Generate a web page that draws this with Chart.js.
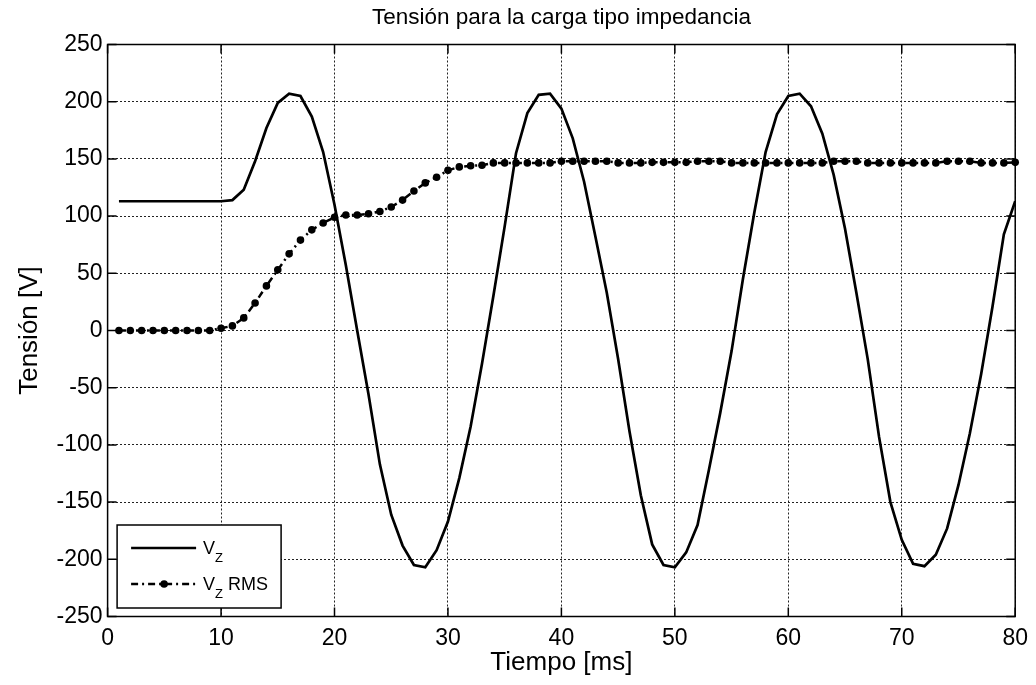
<!DOCTYPE html>
<html>
<head>
<meta charset="utf-8">
<script src="https://cdn.jsdelivr.net/npm/chart.js@4.4.0/dist/chart.umd.min.js"></script>
<style>
html, body { margin: 0; padding: 0; background: #fff; }
#wrap { width: 1036px; height: 685px; position: relative; }
</style>
</head>
<body>
<div id="wrap"><canvas id="chart"></canvas></div>
<script>
// Sample times [ms]
const tiempo = [
  1, 2, 3, 4, 5, 6, 7, 8, 9, 10,
  11, 12, 13, 14, 15, 16, 17, 18, 19, 20,
  21, 22, 23, 24, 25, 26, 27, 28, 29, 30,
  31, 32, 33, 34, 35, 36, 37, 38, 39, 40,
  41, 42, 43, 44, 45, 46, 47, 48, 49, 50,
  51, 52, 53, 54, 55, 56, 57, 58, 59, 60,
  61, 62, 63, 64, 65, 66, 67, 68, 69, 70,
  71, 72, 73, 74, 75, 76, 77, 78, 79, 80
];

// Instantaneous voltage Vz [V]
const vz = [
  113, 113, 113, 113, 113, 113, 113, 113, 113, 113,
  114, 123, 148, 177, 199, 207, 205, 187, 156, 110,
  57, 0, -56, -117, -161, -188, -205, -207, -192, -167,
  -129, -84, -29, 30, 91, 155, 190, 206, 207, 194,
  168, 130, 82, 33, -25, -88, -144, -187, -205, -207,
  -194, -170, -122, -72, -18, 45, 103, 156, 189, 205,
  207, 196, 172, 136, 89, 33, -25, -93, -150, -183,
  -204, -206, -196, -173, -135, -90, -38, 21, 84, 113
];

// RMS voltage Vz RMS [V]
const vzRms = [
  0, 0, 0, 0, 0, 0, 0, 0, 0, 2,
  4, 11, 24, 39, 53, 67, 79, 88, 94, 99,
  101, 101, 102, 104, 108, 114, 122, 129, 134, 140,
  143, 144, 144.5, 146.5, 146.5, 146.5, 146.5, 146.5, 146.5, 148,
  148, 148, 148, 148, 146.5, 146.5, 146.5, 147, 147, 147,
  147, 148, 148, 148, 146.5, 146.5, 146.5, 146.5, 146.5, 146.5,
  146.5, 146.5, 146.5, 148, 148, 148, 146.5, 146.5, 146.5, 146.5,
  146.5, 146.5, 146.5, 148, 148, 148, 146.5, 146.5, 146.5, 147
];

const xTicks = [0, 10, 20, 30, 40, 50, 60, 70, 80];
const yTicks = [-250, -200, -150, -100, -50, 0, 50, 100, 150, 200, 250];

const FONT = "'Liberation Sans', Arial, Helvetica, sans-serif";

// box round the plot + small inward ticks on the four sides
const framePlugin = {
  id: "frame",
  afterDatasetsDraw(chart) {
    const { ctx, chartArea: a, scales: { x, y } } = chart;
    ctx.save();
    ctx.strokeStyle = "#000";
    ctx.lineWidth = 1.5;
    ctx.setLineDash([]);
    ctx.strokeRect(a.left, a.top, a.right - a.left, a.bottom - a.top);
    ctx.beginPath();
    xTicks.forEach(v => {
      const px = x.getPixelForValue(v);
      ctx.moveTo(px, a.bottom); ctx.lineTo(px, a.bottom - 9);
      ctx.moveTo(px, a.top); ctx.lineTo(px, a.top + 9);
    });
    yTicks.forEach(v => {
      const py = y.getPixelForValue(v);
      ctx.moveTo(a.left, py); ctx.lineTo(a.left + 9, py);
      ctx.moveTo(a.right, py); ctx.lineTo(a.right - 9, py);
    });
    ctx.stroke();
    ctx.restore();
  }
};

// legend with subscript Z, drawn in lower left corner
const legendPlugin = {
  id: "vzLegend",
  afterDraw(chart) {
    const ctx = chart.ctx;
    const a = chart.chartArea;
    const bx = a.left + 9.5, by = a.bottom - 91.5, bw = 164, bh = 83;
    ctx.save();
    ctx.fillStyle = "#fff";
    ctx.fillRect(bx, by, bw, bh);
    ctx.strokeStyle = "#000";
    ctx.lineWidth = 1.5;
    ctx.strokeRect(bx, by, bw, bh);

    const rows = [
      { ds: chart.data.datasets[1], y: by + 23, extra: "" },
      { ds: chart.data.datasets[0], y: by + 59, extra: " RMS" }
    ];
    rows.forEach(r => {
      ctx.save();
      ctx.strokeStyle = "#000";
      ctx.lineWidth = r.ds.borderWidth;
      ctx.setLineDash(r.ds.borderDash || []);
      ctx.beginPath();
      ctx.moveTo(bx + 14, r.y);
      ctx.lineTo(bx + 79, r.y);
      ctx.stroke();
      if (r.ds.pointRadius) {
        ctx.fillStyle = "#000";
        ctx.beginPath();
        ctx.arc(bx + 47, r.y, r.ds.pointRadius, 0, Math.PI * 2);
        ctx.fill();
      }
      ctx.restore();

      ctx.fillStyle = "#000";
      ctx.textBaseline = "alphabetic";
      ctx.textAlign = "left";
      let tx = bx + 86;
      ctx.font = "18px " + FONT;
      ctx.fillText("V", tx, r.y + 6);
      tx += ctx.measureText("V").width;
      ctx.font = "13px " + FONT;
      ctx.fillText("Z", tx, r.y + 14);
      tx += ctx.measureText("Z").width;
      if (r.extra) {
        ctx.font = "18px " + FONT;
        ctx.fillText(r.extra, tx, r.y + 6);
      }
    });
    ctx.restore();
  }
};

const ctx = document.getElementById("chart").getContext("2d");

new Chart(ctx, {
  type: "line",
  data: {
    datasets: [
      {
        label: "Vz RMS",
        data: tiempo.map((t, i) => ({ x: t, y: vzRms[i] })),
        borderColor: "#000",
        backgroundColor: "#000",
        borderWidth: 2.5,
        borderDash: [7, 4, 2, 4],
        pointRadius: 3.8,
        pointBorderWidth: 0,
        pointBackgroundColor: "#000",
        tension: 0,
        clip: 6,
        order: 0
      },
      {
        label: "Vz",
        data: tiempo.map((t, i) => ({ x: t, y: vz[i] })),
        borderColor: "#000",
        borderWidth: 2.7,
        pointRadius: 0,
        tension: 0,
        order: 1
      }
    ]
  },
  options: {
    responsive: true,
    maintainAspectRatio: false,
    animation: false,
    devicePixelRatio: 1,
    layout: { padding: { left: 0, right: 20, top: 0, bottom: 0 } },
    plugins: {
      legend: { display: false },
      tooltip: { enabled: false },
      title: {
        display: true,
        fullSize: false,
        text: "Tensión para la carga tipo impedancia",
        color: "#000",
        font: { family: FONT, size: 22.5, weight: "normal", lineHeight: 1.2 },
        padding: { top: 4.5, bottom: 13 }
      }
    },
    scales: {
      x: {
        type: "linear",
        min: 0,
        max: 80,
        afterBuildTicks: s => { s.ticks = xTicks.map(v => ({ value: v })); },
        afterFit: s => { s.height = 68.5; },
        ticks: { color: "#000", padding: 8, font: { family: FONT, size: 23 }, maxRotation: 0 },
        grid: { color: "#222", lineWidth: 1, drawTicks: false },
        border: { display: false, dash: [2, 2] },
        title: {
          display: true,
          text: "Tiempo [ms]",
          color: "#000",
          font: { family: FONT, size: 26, lineHeight: 1.2 },
          padding: { top: 0, bottom: 7 }
        }
      },
      y: {
        type: "linear",
        min: -250,
        max: 250,
        afterBuildTicks: s => { s.ticks = yTicks.map(v => ({ value: v })); },
        afterFit: s => { s.width = 107.6; },
        ticks: { color: "#000", padding: 5, font: { family: FONT, size: 23 } },
        grid: { color: "#222", lineWidth: 1, drawTicks: false },
        border: { display: false, dash: [2, 2] },
        title: {
          display: true,
          text: "Tensión [V]",
          color: "#000",
          font: { family: FONT, size: 26, lineHeight: 1.2 },
          padding: { top: 14.5, bottom: 0 }
        }
      }
    }
  },
  plugins: [framePlugin, legendPlugin]
});
</script>
</body>
</html>
